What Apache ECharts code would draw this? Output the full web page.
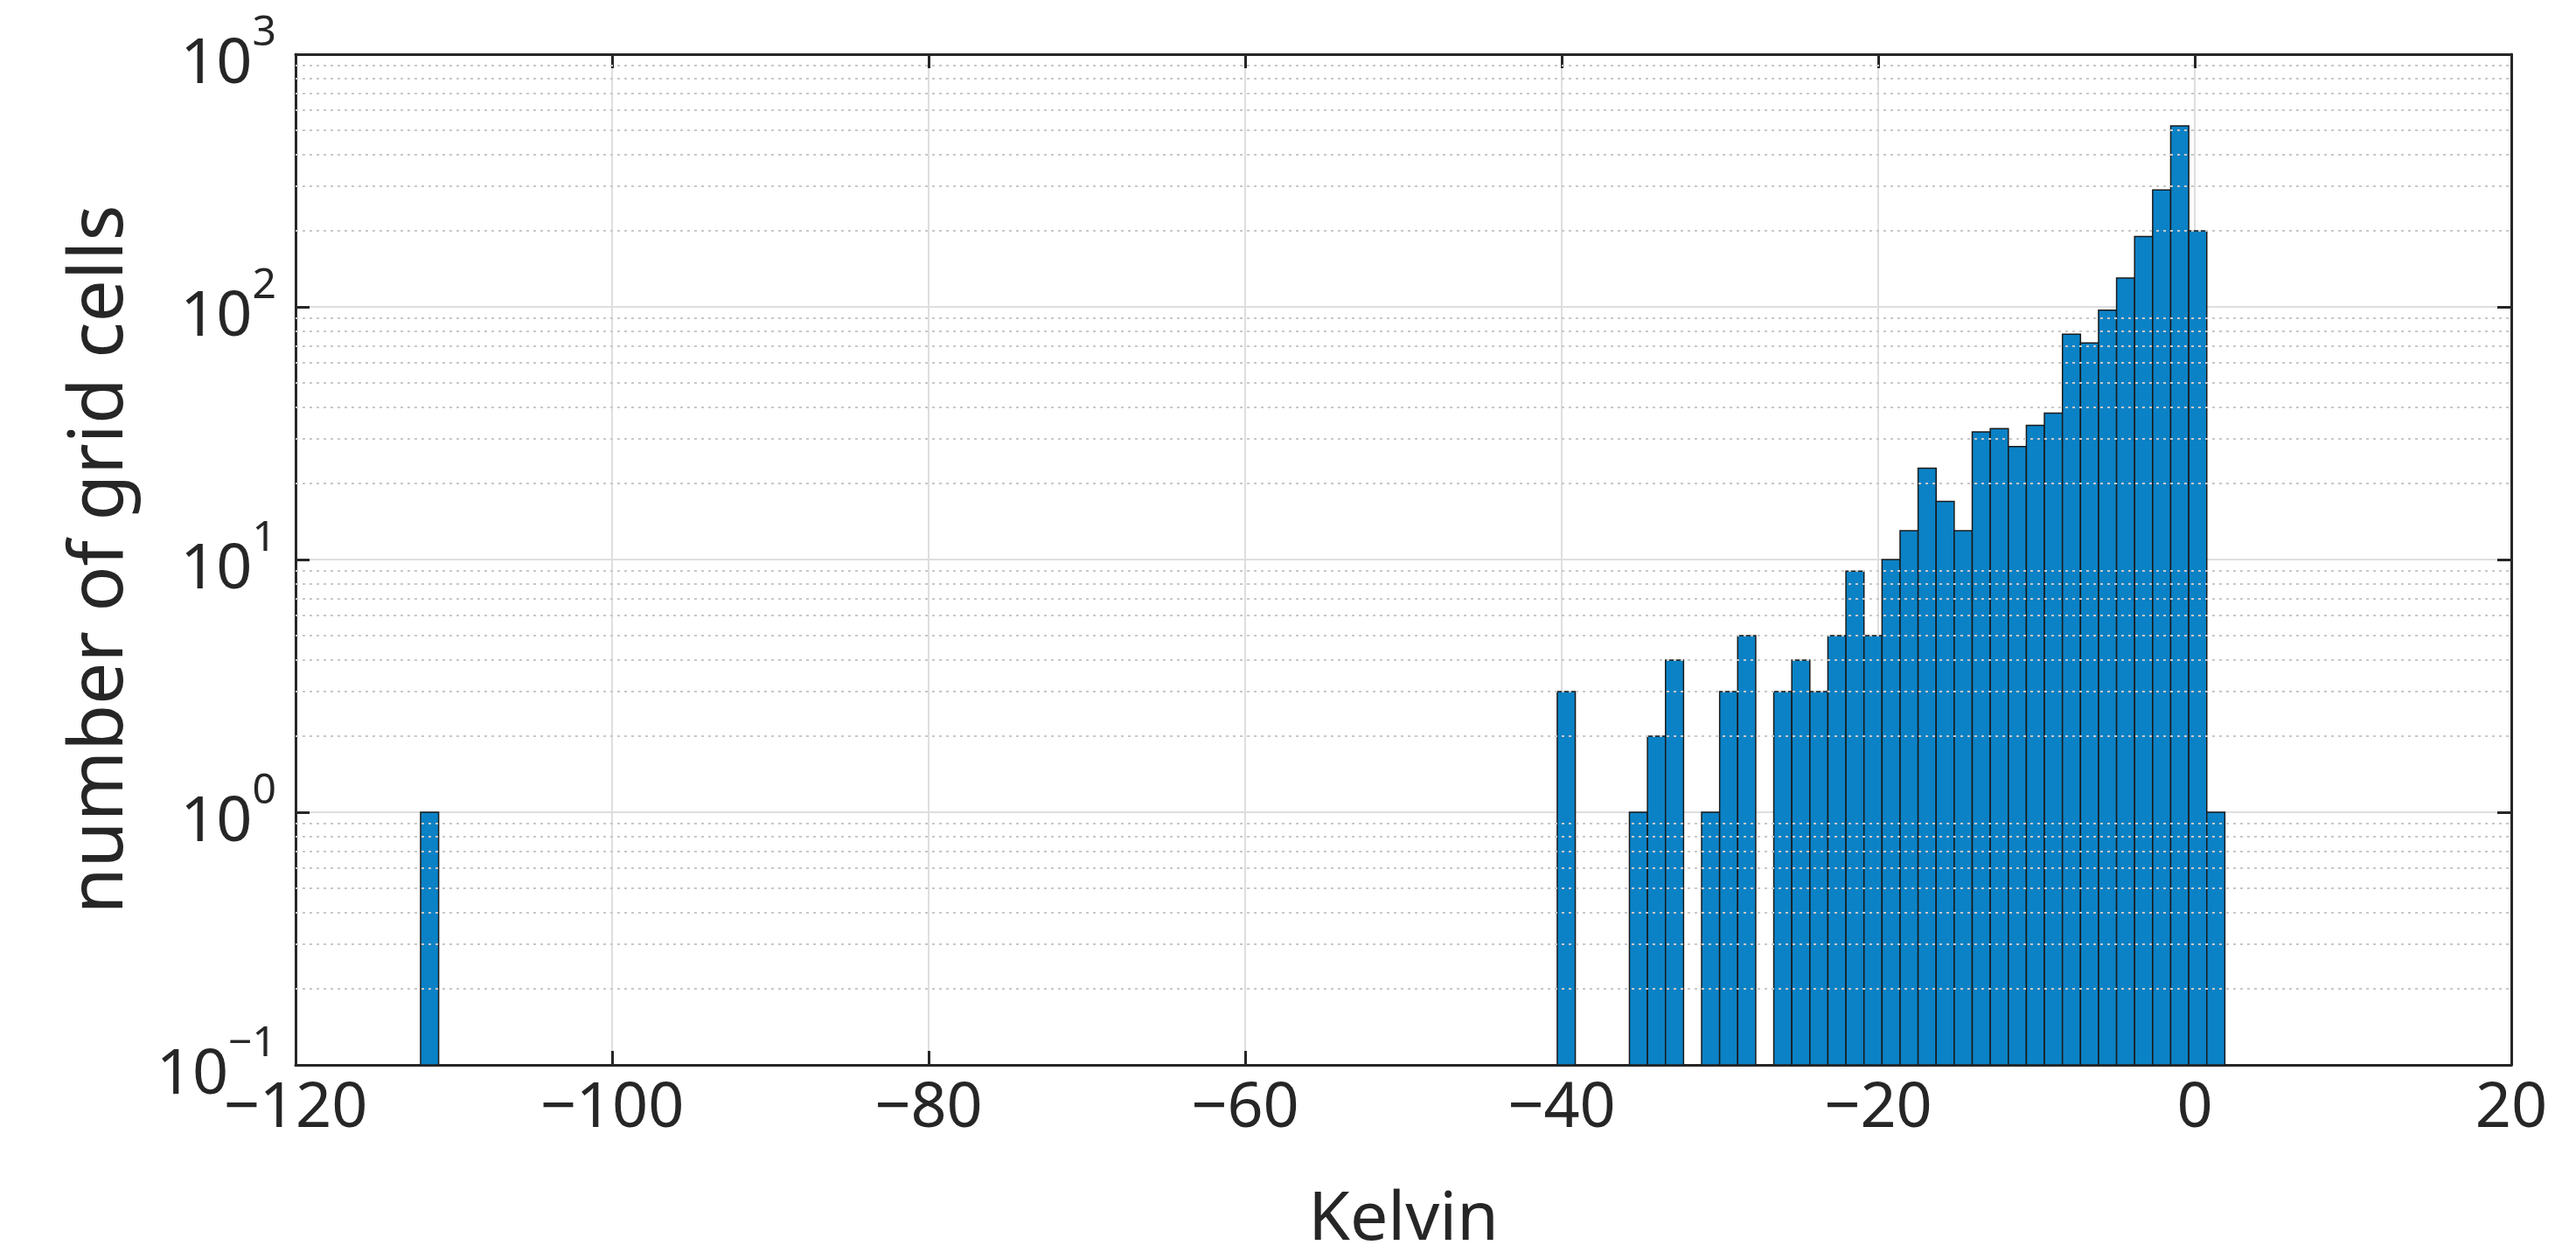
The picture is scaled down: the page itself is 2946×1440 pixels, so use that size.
<!DOCTYPE html>
<html>
<head>
<meta charset="utf-8">
<script src="https://cdn.jsdelivr.net/npm/echarts@6/dist/echarts.min.js"></script>
<style>html,body{margin:0;padding:0;background:#fff}#main{width:2946px;height:1440px}</style>
</head>
<body>
<div id="main"></div>
<script>
// histogram bins: left edge (Kelvin), width and count
var binLeft = [-112.1, -40.28, -35.72, -34.58, -33.44, -31.16, -30.02, -28.88,
  -26.6, -25.46, -24.32, -23.18, -22.04, -20.9, -19.76, -18.62, -17.48, -16.34,
  -15.2, -14.06, -12.92, -11.78, -10.64, -9.5, -8.36, -7.22, -6.08, -4.94,
  -3.8, -2.66, -1.52, -0.38, 0.76];
var binWidth = 1.14;
var counts = [1, 3, 1, 2, 4, 1, 3, 5,
  3, 4, 3, 5, 9, 5, 10, 13, 23, 17,
  13, 32, 33, 28, 34, 38, 78, 72, 97, 130,
  190, 290, 520, 200, 1];
var xTicks = [-120, 20, 20];          // min, max, interval
var yTicks = [0.1, 1000];
var minorY = [];
[0.1, 1, 10, 100].forEach(function(d){
	for (var m = 2; m <= 9; m++) minorY.push({yAxis: +(d * m).toPrecision(3)});
});

var data = binLeft.map(function(l, i){ return [l, l + binWidth, counts[i]]; });
var sup = {'-1':'−1','0':'0','1':'1','2':'2','3':'3'};
var font = 'Noto Sans';
var ink = '#262626';
var line = { show: true, onZero: false, lineStyle: { color: ink, width: 3 } };
var tick = { inside: true, length: 16, lineStyle: { color: ink, width: 3 } };

var myChart = echarts.init(document.getElementById('main'));
option = {
	animation: false,
	grid: { left: 338, right: 74, top: 62, bottom: 211 },
	xAxis: [{
		type: 'value', min: xTicks[0], max: xTicks[1], interval: xTicks[2],
		name: 'Kelvin', nameLocation: 'middle', nameGap: 140,
		nameTextStyle: { fontSize: 77, color: ink, fontFamily: font },
		axisLine: line,
		axisTick: tick,
		axisLabel: { fontSize: 72, color: ink, margin: 14, fontFamily: font,
			formatter: function(v){ return String(v).replace('-', '−'); } },
		splitLine: { lineStyle: { color: '#dedede', width: 2 } }
	}, {
		type: 'value', position: 'top', min: xTicks[0], max: xTicks[1], interval: xTicks[2],
		axisLine: line, axisTick: tick, axisLabel: { show: false }, splitLine: { show: false }
	}],
	yAxis: [{
		type: 'log', logBase: 10, min: yTicks[0], max: yTicks[1],
		name: 'number of grid cells', nameLocation: 'middle', nameGap: 180,
		nameTextStyle: { fontSize: 86, color: ink, fontFamily: font },
		axisLine: line,
		axisTick: tick,
		axisLabel: { margin: 22, fontFamily: font,
			formatter: function(v){
				var e = Math.round(Math.log(v) / Math.LN10);
				return '{b|10}{s|' + sup[e] + '}';
			},
			rich: {
				b: { fontSize: 72, color: ink, fontFamily: font, verticalAlign: 'bottom' },
				s: { fontSize: 48, color: ink, fontFamily: font, verticalAlign: 'top', padding: [0, 0, 48, 0] }
			}
		},
		splitLine: { lineStyle: { color: '#dedede', width: 2 } }
	}, {
		type: 'log', logBase: 10, min: yTicks[0], max: yTicks[1], position: 'right',
		axisLine: line, axisTick: tick, axisLabel: { show: false }, splitLine: { show: false }
	}],
	series: [{
		type: 'custom',
		data: data,
		clip: true,
		renderItem: function(params, api){
			var p0 = api.coord([api.value(0), api.value(2)]);
			var p1 = api.coord([api.value(1), yTicks[0]]);
			return { type: 'rect',
				shape: { x: p0[0], y: p0[1], width: p1[0] - p0[0], height: p1[1] - p0[1] },
				style: { fill: '#0b82c6', stroke: '#1a1a1a', lineWidth: 1.5 } };
		},
		encode: { x: [0, 1], y: 2 },
		markLine: {
			silent: true, symbol: 'none', label: { show: false },
			lineStyle: { color: '#c8c8c8', type: [3, 5], width: 2 },
			data: minorY
		},
		z: 1
	}]
};
myChart.setOption(option);
</script>
</body>
</html>
